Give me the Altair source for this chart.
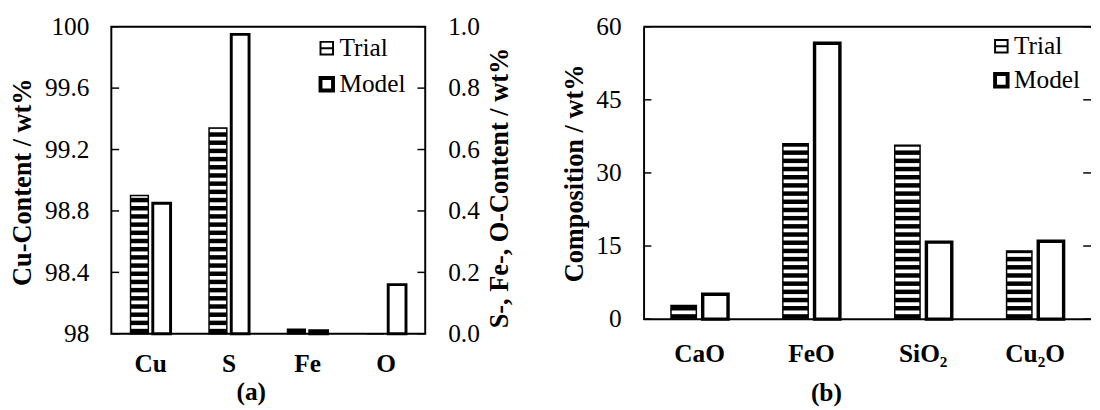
import altair as alt
import pandas as pd

FONT = "Liberation Serif, Tinos, DejaVu Serif, Noto Serif, Times New Roman, serif"
series = ["Trial", "Model"]

# Panel (a): copper composition
elements_a = ["Cu", "S", "Fe", "O"]
trial_a = [98.90, 0.67, 0.015, 0.0]
model_a = [98.85, 0.975, 0.010, 0.16]
cu_ticks = [98.0, 98.4, 98.8, 99.2, 99.6, 100.0]
minor_ticks = [0.0, 0.2, 0.4, 0.6, 0.8, 1.0]

# Panel (b): slag composition
oxides_b = ["CaO", "FeO", "SiO₂", "Cu₂O"]
trial_b = [2.8, 36.0, 35.7, 14.0]
model_b = [5.1, 56.6, 15.8, 16.0]
comp_ticks = [0, 15, 30, 45, 60]


def long_frame(cats, trial, model):
    rows = []
    for c, t, m in zip(cats, trial, model):
        rows.append({"cat": c, "series": "Trial", "value": t})
        rows.append({"cat": c, "series": "Model", "value": m})
    return pd.DataFrame(rows)


dfa = long_frame(elements_a, trial_a, model_a)
dfa_cu = dfa[dfa["cat"] == "Cu"].reset_index(drop=True)
dfa_min = dfa[dfa["cat"] != "Cu"].reset_index(drop=True)
dfb = long_frame(oxides_b, trial_b, model_b)

TRIAL_PATH = "M-1,-1H1V1H-1ZM-1,0H1"


def make_legend(x, y, row_pad):
    return alt.Legend(
        title=None, orient="none", legendX=x, legendY=y, padding=0,
        labelFont=FONT, labelFontSize=26, labelColor="black", labelOffset=0,
        rowPadding=row_pad, symbolSize=165, symbolOpacity=1,
        symbolFillColor="white", symbolStrokeColor="black",
    )


def bar_group(df, xenc, xoff, base, ydom, pitch, thick, off, yaxis, sw, leg,
              tick_vals, tick_x):
    yscale = alt.Scale(domain=ydom, zero=False, nice=False)
    layers = []
    if leg is not None:
        # hidden (clipped) points that only carry the legend symbols
        keys = alt.Chart(df).mark_point(filled=False, stroke="black", clip=True).encode(
            x=alt.value(-200),
            y=alt.Y("value:Q", scale=yscale, axis=yaxis),
            shape=alt.Shape("series:O", sort=series,
                            scale=alt.Scale(domain=series, range=[TRIAL_PATH, "square"]),
                            legend=leg),
            strokeWidth=alt.StrokeWidth("series:O", sort=series,
                                        scale=alt.Scale(domain=series, range=[2.0, 4.0]),
                                        legend=leg),
        )
        layers.append(keys)
    for s, w in zip(series, sw):
        layers.append(
            alt.Chart(df).transform_filter(alt.datum.series == s)
            .transform_calculate(base=str(base))
            .mark_bar(fill="white", stroke="black", strokeWidth=w)
            .encode(x=xenc, xOffset=xoff,
                    y=alt.Y("value:Q", scale=yscale, axis=yaxis), y2="base:Q")
        )
    stripes = (
        alt.Chart(df)
        .transform_filter(alt.datum.series == "Trial")
        .transform_calculate(s=f"sequence(0, datum.value - ({base}), {pitch})")
        .transform_flatten(["s"])
        .transform_calculate(
            s0=f"({base}) + datum.s + {off}",
            s1=f"min(({base}) + datum.s + {off} + {thick}, datum.value)",
        )
        .transform_filter("datum.s0 < datum.value")
        .mark_bar(color="black")
        .encode(x=xenc, xOffset=xoff,
                y=alt.Y("s0:Q", scale=yscale, axis=yaxis), y2="s1:Q")
    )
    ticks = alt.Chart(pd.DataFrame({"t": tick_vals})).mark_rule(
        color="black", strokeWidth=1.5).encode(
        y=alt.Y("t:Q", scale=yscale, axis=yaxis),
        x=alt.value(tick_x[0]), x2=alt.value(tick_x[1]))
    layers += [stripes, ticks]
    return layers, yscale


def x_axis(title, pad, tx, ty):
    return alt.Axis(
        title=title, labelFont=FONT, labelFontWeight="bold", labelFontSize=26,
        labelColor="black", labelAngle=0, labelBaseline="alphabetic",
        labelPadding=pad, ticks=False, tickSize=0, domain=False, grid=False,
        titleFont=FONT, titleFontWeight="bold", titleFontSize=26, titleColor="black",
        titleX=tx, titleY=ty, titleBaseline="alphabetic", titleAlign="center")


def y_axis(orient, vals, fmt, title, tx, ty, domain=False):
    return alt.Axis(
        orient=orient, values=vals, format=fmt, labelFont=FONT, labelFontSize=26,
        labelColor="black", labelPadding=23, ticks=False, tickSize=0,
        domain=domain, domainColor="black", domainWidth=2, grid=False,
        title=title, titleFont=FONT, titleFontWeight="bold", titleFontSize=27,
        titleColor="black", titleAngle=270, titleX=tx, titleY=ty,
        titleBaseline="middle", titleAlign="center")


def xoffset():
    return alt.XOffset("series:N", sort=series,
                       scale=alt.Scale(domain=series, paddingInner=0.2, paddingOuter=0))


# ---------- panel (a) ----------
WA, HA = 322, 315
xenc_a = alt.X("cat:N", sort=elements_a,
               scale=alt.Scale(domain=elements_a, paddingInner=0.49, paddingOuter=0.245),
               axis=x_axis("(a)", 39, 143, 67))
xoff_a = xoffset()

cu_layers, _ = bar_group(
    dfa_cu, xenc_a, xoff_a, 98, [98, 100], 0.05333, 0.0292, 0.003,
    y_axis("left", cu_ticks, "~g", "Cu-Content / wt%", -91, 159),
    [1.5, 3.0], make_legend(208, 9, 9), cu_ticks, (0, 8))
min_layers, _ = bar_group(
    dfa_min, xenc_a, xoff_a, 0, [0, 1], 0.02667, 0.0146, 0.0015,
    y_axis("right", minor_ticks, ".1f", "S-, Fe-, O-Content / wt%", 76, 165),
    [1.5, 3.0], None, minor_ticks, (WA - 8, WA))

panel_a = alt.layer(
    alt.layer(*cu_layers), alt.layer(*min_layers)
).resolve_scale(y="independent").properties(
    width=WA, height=HA, view=alt.ViewBackground(stroke="black", strokeWidth=2))

# ---------- panel (b) (its right edge runs just past the picture) ----------
WB, HB = 459, 300
xenc_b = alt.X("cat:N", sort=oxides_b,
               scale=alt.Scale(domain=oxides_b, paddingInner=0.49, paddingOuter=0.245),
               axis=x_axis("(b)", 43, 187, 83))
xoff_b = xoffset()
yaxis_b = y_axis("left", comp_ticks, "d", "Composition / wt%", -71, HB / 2, domain=True)
b_layers, yscale_b = bar_group(
    dfb, xenc_b, xoff_b, 0, [0, 60], 1.68, 0.92, 0.1, yaxis_b,
    [1.5, 3.5], make_legend(354, 7, 7), comp_ticks, (0, 8))
right_ticks_b = alt.Chart(pd.DataFrame({"t": comp_ticks})).mark_rule(
    color="black", strokeWidth=1.5).encode(
    y=alt.Y("t:Q", scale=yscale_b, axis=yaxis_b),
    x=alt.value(WB - 8), x2=alt.value(WB))
frame_b = alt.Chart(pd.DataFrame({"v": [comp_ticks[0], comp_ticks[-1]]})).mark_rule(
    color="black", strokeWidth=2).encode(
    y=alt.Y("v:Q", scale=yscale_b, axis=yaxis_b),
    x=alt.value(0), x2=alt.value(WB))

panel_b = alt.layer(*b_layers, right_ticks_b, frame_b).properties(width=WB, height=HB)

chart = alt.hconcat(panel_a, panel_b, spacing=49).resolve_scale(
    strokeWidth="independent", shape="independent", x="independent",
    xOffset="independent").resolve_legend(
    strokeWidth="independent", shape="independent").properties(
    padding=0, background="white").configure_view(stroke=None)

chart.save("out.html", embed_options={"renderer": "svg", "actions": False})
